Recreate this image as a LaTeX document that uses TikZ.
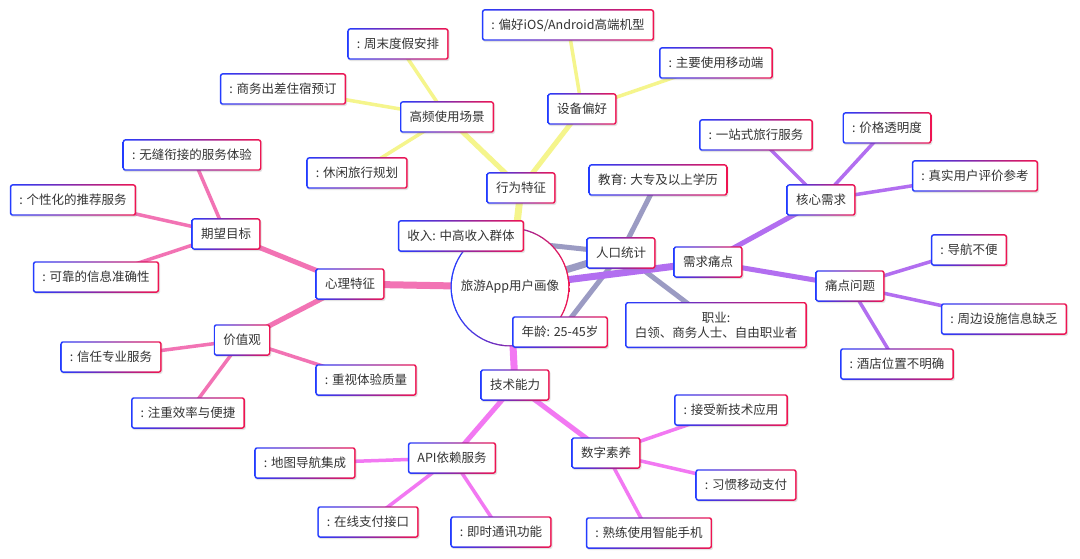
\documentclass[tikz,border=0pt]{standalone}
\usepackage{fontspec}
\setmainfont{Noto Sans CJK SC}
\usetikzlibrary{shadows,backgrounds}
\definecolor{bblue}{RGB}{35,60,255}
\definecolor{bred}{RGB}{240,20,80}
\definecolor{txt}{RGB}{51,51,51}
\definecolor{cyel}{RGB}{245,245,140}
\definecolor{cgray}{RGB}{155,155,195}
\definecolor{cpur}{RGB}{178,110,240}
\definecolor{cpink}{RGB}{242,115,180}
\definecolor{cmag}{RGB}{242,120,242}
\tikzset{
  box/.style={rectangle, rounded corners=2.5pt, left color=bblue, right color=bred,
    text=txt, font=\fontsize{12.5}{15}\selectfont, inner xsep=9.5pt, inner ysep=0pt,
    minimum height=31.5pt, align=center,
    drop shadow={shadow xshift=1pt, shadow yshift=-1.3pt, opacity=0.22},
    path picture={\fill[white, rounded corners=1.4pt]
      ([shift={(1.4pt,1.4pt)}]path picture bounding box.south west) rectangle
      ([shift={(-1.4pt,-1.4pt)}]path picture bounding box.north east);}},
  rootnode/.style={circle, minimum size=119pt, inner sep=0pt, left color=bblue, right color=bred,
    text=txt, font=\fontsize{12.5}{15}\selectfont,
    path picture={\fill[white] (path picture bounding box.center) circle (58.1pt);}},
  e0/.style={line width=7pt},
  e1/.style={line width=5pt},
  e2/.style={line width=3.5pt}
}
\begin{document}
\begin{tikzpicture}[x=1pt, y=-1pt]
\useasboundingbox (0,0) rectangle (1080,559);
% root
\node[rootnode] (root) at (510,287) {旅游App用户画像};
% level 1
\node[box] (xw) at (521,188) {行为特征};
\node[box] (rk) at (621,253) {人口统计};
\node[box] (xq) at (708,262) {需求痛点};
\node[box] (xl) at (350,284) {心理特征};
\node[box] (js) at (515,385) {技术能力};
% 行为特征
\node[box] (gp) at (447,117) {高频使用场景};
\node[box] (sb) at (582,109) {设备偏好};
\node[box] (gp1) at (398,44) {: 周末度假安排};
\node[box] (gp2) at (283,89) {: 商务出差住宿预订};
\node[box] (gp3) at (357,173) {: 休闲旅行规划};
\node[box] (sb1) at (568,25) {: 偏好iOS/Android高端机型};
\node[box] (sb2) at (716,63) {: 主要使用移动端};
% 人口统计
\node[box] (rk1) at (461,236) {收入: 中高收入群体};
\node[box] (rk2) at (560,332) {年龄: 25-45岁};
\node[box] (rk3) at (658,180) {教育: 大专及以上学历};
\node[box, minimum height=46pt] (rk4) at (716,325) {职业:\\白领、商务人士、自由职业者};
% 需求痛点
\node[box] (hx) at (821,200) {核心需求};
\node[box] (td) at (850,286) {痛点问题};
\node[box] (hx1) at (756,135) {: 一站式旅行服务};
\node[box] (hx2) at (887,128) {: 价格透明度};
\node[box] (hx3) at (975,176) {: 真实用户评价参考};
\node[box] (td1) at (969,250) {: 导航不便};
\node[box] (td2) at (1004,319) {: 周边设施信息缺乏};
\node[box] (td3) at (897,364) {: 酒店位置不明确};
% 心理特征
\node[box] (qw) at (226,234) {期望目标};
\node[box] (jz) at (242,340) {价值观};
\node[box] (qw1) at (192,155) {: 无缝衔接的服务体验};
\node[box] (qw2) at (73,200) {: 个性化的推荐服务};
\node[box] (qw3) at (96,277) {: 可靠的信息准确性};
\node[box] (jz1) at (111,357) {: 信任专业服务};
\node[box] (jz2) at (366,380) {: 重视体验质量};
\node[box] (jz3) at (188,413) {: 注重效率与便捷};
% 技术能力
\node[box] (api) at (452,458) {API依赖服务};
\node[box] (sz) at (606,453) {数字素养};
\node[box] (api1) at (305,463) {: 地图导航集成};
\node[box] (api2) at (368,522) {: 在线支付接口};
\node[box] (api3) at (501,532) {: 即时通讯功能};
\node[box] (sz1) at (731,410) {: 接受新技术应用};
\node[box] (sz2) at (746,485) {: 习惯移动支付};
\node[box] (sz3) at (649,533) {: 熟练使用智能手机};
\begin{scope}[on background layer]
  \fill[white] (0,0) rectangle (1080,559);
  % 行为特征
  \draw[e0, cyel] (root.center) -- (xw.center);
  \draw[e1, cyel] (xw.center) -- (gp.center);
  \draw[e1, cyel] (xw.center) -- (sb.center);
  \draw[e2, cyel] (gp.center) -- (gp1.center);
  \draw[e2, cyel] (gp.center) -- (gp2.center);
  \draw[e2, cyel] (gp.center) -- (gp3.center);
  \draw[e2, cyel] (sb.center) -- (sb1.center);
  \draw[e2, cyel] (sb.center) -- (sb2.center);
  % 人口统计
  \draw[e0, cgray] (root.center) -- (rk.center);
  \draw[e1, cgray] (rk.center) -- (rk1.center);
  \draw[e1, cgray] (rk.center) -- (rk2.center);
  \draw[e1, cgray] (rk.center) -- (rk3.center);
  \draw[e1, cgray] (rk.center) -- (rk4.center);
  % 需求痛点
  \draw[e0, cpur] (root.center) -- (xq.center);
  \draw[e1, cpur] (xq.center) -- (hx.center);
  \draw[e1, cpur] (xq.center) -- (td.center);
  \draw[e2, cpur] (hx.center) -- (hx1.center);
  \draw[e2, cpur] (hx.center) -- (hx2.center);
  \draw[e2, cpur] (hx.center) -- (hx3.center);
  \draw[e2, cpur] (td.center) -- (td1.center);
  \draw[e2, cpur] (td.center) -- (td2.center);
  \draw[e2, cpur] (td.center) -- (td3.center);
  % 心理特征
  \draw[e0, cpink] (root.center) -- (xl.center);
  \draw[e1, cpink] (xl.center) -- (qw.center);
  \draw[e1, cpink] (xl.center) -- (jz.center);
  \draw[e2, cpink] (qw.center) -- (qw1.center);
  \draw[e2, cpink] (qw.center) -- (qw2.center);
  \draw[e2, cpink] (qw.center) -- (qw3.center);
  \draw[e2, cpink] (jz.center) -- (jz1.center);
  \draw[e2, cpink] (jz.center) -- (jz2.center);
  \draw[e2, cpink] (jz.center) -- (jz3.center);
  % 技术能力
  \draw[e0, cmag] (root.center) -- (js.center);
  \draw[e1, cmag] (js.center) -- (api.center);
  \draw[e1, cmag] (js.center) -- (sz.center);
  \draw[e2, cmag] (api.center) -- (api1.center);
  \draw[e2, cmag] (api.center) -- (api2.center);
  \draw[e2, cmag] (api.center) -- (api3.center);
  \draw[e2, cmag] (sz.center) -- (sz1.center);
  \draw[e2, cmag] (sz.center) -- (sz2.center);
  \draw[e2, cmag] (sz.center) -- (sz3.center);
\end{scope}
\end{tikzpicture}
\end{document}
